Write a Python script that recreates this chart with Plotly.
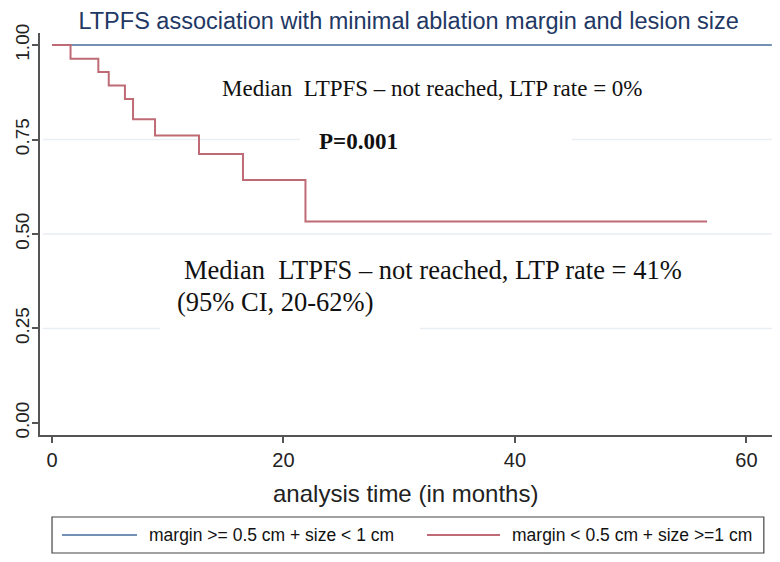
import plotly.graph_objects as go

# ---- data ----
blue_name = "margin >= 0.5 cm + size < 1 cm"
blue_t = [0, 62.2]
blue_s = [1.0, 1.0]

red_name = "margin < 0.5 cm + size >=1 cm"
red_t = [0, 1.6, 4.0, 4.9, 6.3, 7.0, 8.9, 12.7, 16.5, 21.9, 56.6]
red_s = [1.0, 0.964, 0.929, 0.893, 0.857, 0.804, 0.761, 0.712, 0.643, 0.533, 0.533]

y_ticks = [0.0, 0.25, 0.5, 0.75, 1.0]
y_ticklabels = ["0.00", "0.25", "0.50", "0.75", "1.00"]
x_ticks = [0, 20, 40, 60]

title_text = "LTPFS association with minimal ablation margin and lesion size"
x_title = "analysis time (in months)"
note_top = "Median  LTPFS \u2013 not reached, LTP rate = 0%"
note_p = "<b>P=0.001</b>"
note_bottom_1 = "Median  LTPFS \u2013 not reached, LTP rate = 41%"
note_bottom_2 = "(95% CI, 20-62%)"

BLUE = "#7391b5"
RED = "#bf6b75"
GRID = "#e9eef4"
AX = "#555555"
SANS = "Liberation Sans"
SERIF = "Liberation Serif"

fig = go.Figure()
fig.add_trace(go.Scatter(x=blue_t, y=blue_s, mode="lines", line_shape="hv",
                         line=dict(color=BLUE, width=2), name=blue_name, showlegend=False))
fig.add_trace(go.Scatter(x=red_t, y=red_s, mode="lines", line_shape="hv",
                         line=dict(color=RED, width=2), name=red_name, showlegend=False))

# faint horizontal grid segments (partly hidden by text boxes in the original)
grid_segments = [
    (0.75, -0.8, 21.4), (0.75, 44.9, 62.2),
    (0.50, -0.8, 62.2),
    (0.25, -0.8, 9.3), (0.25, 31.8, 62.2),
]
for yv, xa, xb in grid_segments:
    fig.add_shape(type="line", xref="x", yref="y", x0=xa, x1=xb, y0=yv, y1=yv,
                  line=dict(color=GRID, width=1.5), layer="below")

# text notes
fig.add_annotation(text=note_top, xref="paper", yref="paper", x=0.2456, y=0.862,
                   xanchor="left", yanchor="middle", showarrow=False,
                   font=dict(family=SERIF, size=23, color="#111111"))
fig.add_annotation(text=note_p, xref="paper", yref="paper", x=0.378, y=0.729,
                   xanchor="left", yanchor="middle", showarrow=False,
                   font=dict(family=SERIF, size=23, color="#111111"))
fig.add_annotation(text=note_bottom_1, xref="paper", yref="paper", x=0.194, y=0.41,
                   xanchor="left", yanchor="middle", showarrow=False,
                   font=dict(family=SERIF, size=26.5, color="#111111"))
fig.add_annotation(text=note_bottom_2, xref="paper", yref="paper", x=0.184, y=0.33,
                   xanchor="left", yanchor="middle", showarrow=False,
                   font=dict(family=SERIF, size=26.5, color="#111111"))

# x-axis title
fig.add_annotation(text=x_title, xref="paper", yref="paper", x=0.4993, y=-0.1443,
                   xanchor="center", yanchor="middle", showarrow=False,
                   font=dict(family=SANS, size=24, color="#222222"))

# legend (drawn by hand to match the wide single-row box)
fig.add_shape(type="rect", xref="paper", yref="paper", x0=0.0164, x1=0.9875,
              y0=-0.2935, y1=-0.204, line=dict(color="#444444", width=1.2),
              fillcolor="white", layer="above")
legend_items = [(blue_name, BLUE, 0.030, 0.1323, 0.146),
                (red_name, RED, 0.528, 0.6276, 0.6412)]
for name, col, lx0, lx1, tx in legend_items:
    fig.add_shape(type="line", xref="paper", yref="paper", x0=lx0, x1=lx1,
                  y0=-0.2488, y1=-0.2488, line=dict(color=col, width=2), layer="above")
    fig.add_annotation(text=name, xref="paper", yref="paper", x=tx, y=-0.2488,
                       xanchor="left", yanchor="middle", showarrow=False,
                       font=dict(family=SANS, size=17.5, color="#111111"))

fig.update_layout(
    width=772, height=554,
    margin=dict(l=32, r=7, t=25, b=127),
    paper_bgcolor="white", plot_bgcolor="white",
    font=dict(family=SANS, color="#222222"),
    title=dict(text=title_text, x=0.519, xanchor="center", y=0.9765, yanchor="middle",
               font=dict(family=SANS, size=23.5, color="#1f3864")),
    showlegend=False,
)
fig.update_xaxes(range=[-1.04, 62.3], tickvals=x_ticks, showgrid=False, zeroline=False,
                 automargin=False,
                 showline=True, linecolor=AX, linewidth=2, ticks="outside",
                 ticklen=6, tickcolor=AX, tickwidth=1.5,
                 tickfont=dict(family=SANS, size=20, color="#222222"))
fig.update_yaxes(range=[-0.032, 1.032], tickvals=y_ticks, ticktext=y_ticklabels,
                 showgrid=False, zeroline=False, tickangle=-90, automargin=False,
                 showline=True, linecolor=AX, linewidth=2, ticks="outside",
                 ticklen=6, tickcolor=AX, tickwidth=1.5, ticklabelstandoff=-5,
                 tickfont=dict(family=SANS, size=19, color="#222222"))

fig.write_html("out.html")
